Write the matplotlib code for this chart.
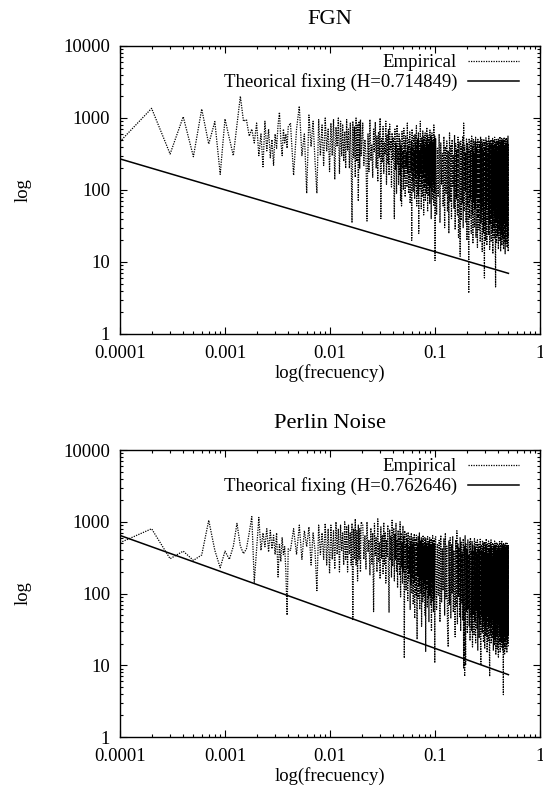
import numpy as np
import matplotlib
matplotlib.use('Agg')
import matplotlib.pyplot as plt
from matplotlib.ticker import LogLocator, FuncFormatter, NullFormatter

plt.rcParams['font.family'] = ['Liberation Serif', 'DejaVu Serif']
plt.rcParams['font.size'] = 13.5

# sample index k of the periodogram, frequency = k / 10000
k_a = np.arange(1, 41)
k_b = np.arange(42, 201, 3)
k_c = np.arange(205, 1001, 5)
k_d = np.arange(1015, 5001, 20)
freq = np.concatenate([k_a, k_b, k_c, k_d]) / 10000.0

# FGN periodogram
fgn_a = [470, 1360, 316, 1040, 290, 1330, 435, 890, 165, 970,
         520, 300, 800, 2000, 900, 950, 560, 700, 450, 850,
         300, 600, 210, 900, 350, 700, 280, 500, 220, 600,
         380, 800, 1200, 500, 300, 700, 450, 600, 380, 750]
fgn_b = [850, 160, 700, 1460, 300, 600, 90, 1100, 400, 900,
         250, 90, 950, 300, 800, 220, 1000, 350, 700, 180,
         850, 300, 950, 140, 750, 400, 1000, 170, 900, 300,
         800, 250, 650, 200, 950, 350, 700, 200, 850, 300,
         35, 900, 280, 750, 150, 1000, 250, 800, 70, 900,
         200, 950, 300]
fgn_c = [850, 220, 500, 300, 37, 600, 180, 950, 260, 420,
         150, 700, 330, 880, 200, 560, 130, 640, 280, 1000,
         40, 520, 240, 760, 170, 450, 310, 900, 120, 580,
         230, 690, 160, 820, 350, 480, 110, 620, 260, 540,
         140, 40, 700, 190, 450, 90, 800, 230, 380, 120,
         600, 160, 500, 70, 420, 60, 650, 200, 350, 100,
         720, 150, 460, 80, 560, 210, 330, 110, 850, 170,
         400, 90, 520, 140, 640, 65, 380, 180, 480, 20,
         700, 130, 420, 95, 560, 190, 340, 75, 600, 150,
         450, 110, 780, 60, 390, 160, 520, 85, 620, 25,
         480, 140, 350, 100, 900, 170, 430, 55, 540, 120,
         380, 80, 660, 150, 470, 45, 560, 110, 400, 190,
         620, 70, 350, 130, 500, 90, 740, 160, 420, 50,
         580, 120, 380, 85, 520, 140, 450, 65, 680, 110,
         400, 160, 550, 40, 470, 95, 620, 130, 360, 75,
         500, 150, 430, 60, 800, 120, 450, 90, 560, 10.5]
fgn_d = [520, 45, 380, 80, 600, 35, 450, 120, 320, 60,
         550, 30, 400, 90, 480, 50, 350, 25, 620, 70,
         420, 40, 500, 110, 300, 55, 580, 28, 440, 75,
         360, 45, 540, 22, 470, 85, 12, 490, 38, 400,
         65, 560, 30, 850, 50, 420, 95, 330, 35, 510,
         20, 450, 60, 380, 3.7, 520, 40, 350, 75, 480,
         25, 560, 45, 400, 18, 500, 70, 320, 30, 470,
         55, 540, 22, 390, 80, 460, 16, 520, 42, 350,
         28, 480, 65, 420, 19, 550, 35, 380, 50, 500,
         14, 440, 60, 360, 25, 510, 45, 6, 470, 32,
         400, 20, 530, 55, 350, 17, 490, 38, 420, 70,
         300, 24, 560, 48, 410, 15, 470, 33, 380, 60,
         500, 19, 440, 42, 330, 26, 520, 13, 400, 55,
         480, 30, 360, 21, 540, 45, 410, 16, 4.5, 450,
         35, 500, 18, 390, 58, 470, 23, 340, 40, 520,
         15, 430, 50, 480, 27, 370, 20, 550, 36, 410,
         14, 490, 44, 350, 24, 520, 17, 430, 52, 380,
         21, 500, 34, 450, 15, 400, 46, 540, 19, 360,
         38, 480, 13, 420, 28, 510, 42, 370, 18, 530,
         31, 440, 16, 490, 47, 400, 22, 560, 14, 450]

# Perlin noise periodogram
perlin_a = [512, 800, 306, 390, 290, 345, 1050, 400, 229, 390,
            300, 455, 950, 460, 360, 420, 700, 1180, 144, 420,
            1150, 400, 700, 450, 800, 380, 760, 420, 650, 350,
            700, 170, 500, 280, 600, 350, 450, 200, 50, 420]
perlin_b = [400, 800, 350, 900, 300, 750, 450, 850, 250, 700,
            400, 110, 900, 350, 700, 300, 950, 250, 800, 190,
            900, 300, 750, 220, 1000, 350, 800, 200, 900, 400,
            700, 250, 1000, 300, 850, 200, 900, 350, 700, 250,
            950, 42, 800, 300, 1100, 250, 750, 150, 900, 300,
            800, 200, 1000]
perlin_c = [900, 300, 650, 220, 1000, 380, 560, 180, 820, 260,
            700, 56, 950, 340, 600, 200, 1100, 280, 520, 160,
            850, 310, 640, 190, 980, 250, 720, 140, 560, 330,
            900, 210, 55, 780, 290, 620, 170, 1050, 240, 480,
            820, 150, 680, 300, 950, 200, 560, 120, 760, 260,
            600, 180, 1000, 90, 700, 230, 520, 140, 880, 200,
            640, 12.6, 750, 170, 480, 110, 680, 220, 560, 80,
            720, 150, 450, 190, 620, 60, 540, 130, 700, 100,
            480, 170, 600, 70, 520, 140, 680, 45, 440, 160,
            580, 95, 650, 120, 23, 500, 180, 620, 85, 460,
            130, 700, 60, 540, 150, 420, 100, 600, 35, 480,
            170, 560, 75, 650, 120, 440, 90, 520, 140, 600,
            50, 460, 15.6, 580, 110, 500, 160, 420, 65, 620,
            130, 480, 85, 550, 40, 440, 150, 600, 95, 500,
            120, 420, 70, 580, 30, 520, 140, 460, 80, 640,
            110, 500, 55, 440, 160, 560, 90, 480, 10.8, 600]
perlin_d = [620, 60, 480, 95, 550, 40, 650, 75, 420, 110,
            580, 50, 700, 85, 460, 35, 18, 540, 70, 600,
            45, 480, 100, 630, 55, 400, 80, 25, 560, 65,
            750, 38, 500, 90, 440, 48, 610, 30, 520, 72,
            380, 42, 580, 9, 460, 7, 640, 10, 490, 55,
            420, 28, 560, 60, 350, 35, 520, 22, 600, 48,
            400, 30, 540, 18, 470, 52, 380, 26, 580, 40,
            450, 20, 520, 58, 360, 32, 560, 16, 430, 45,
            500, 24, 410, 38, 570, 19, 10, 480, 50, 390,
            28, 550, 36, 440, 21, 510, 44, 370, 17, 530,
            33, 460, 26, 580, 40, 400, 15, 490, 48, 350,
            22, 540, 35, 430, 18, 7, 500, 42, 380, 27,
            560, 20, 450, 38, 340, 24, 510, 46, 420, 16,
            480, 30, 390, 19, 540, 36, 440, 23, 500, 14,
            370, 41, 520, 25, 430, 17, 490, 33, 350, 21,
            13, 470, 37, 410, 20, 530, 28, 380, 15, 460,
            34, 500, 22, 420, 18, 550, 39, 360, 24, 480,
            16, 440, 31, 3.9, 510, 19, 400, 27, 470, 14,
            430, 35, 490, 21, 370, 17, 520, 29, 410, 23,
            460, 15, 500, 32, 390, 20, 440, 26, 480, 18]

fgn = np.array(fgn_a + fgn_b + fgn_c + fgn_d, dtype=float)
perlin = np.array(perlin_a + perlin_b + perlin_c + perlin_d, dtype=float)

# theoretical fit lines, end points
fit_freq = [0.0001, 0.5]
fgn_fit = [270, 6.95]
perlin_fit = [646, 7.4]

fig = plt.figure(figsize=(5.43, 7.98), dpi=100)
ax1 = fig.add_axes([0.2210, 0.5815, 0.7735, 0.3609])
ax2 = fig.add_axes([0.2210, 0.0764, 0.7735, 0.3596])

fmt = FuncFormatter(lambda v, p: '%g' % v)

for ax, emp, fit, title, lab in [(ax1, fgn, fgn_fit, 'FGN', 'Theorical fixing (H=0.714849)'),
                                 (ax2, perlin, perlin_fit, 'Perlin Noise', 'Theorical fixing (H=0.762646)')]:
    ax.plot(freq, emp, color='black', lw=0.9, ls=(0, (1, 1)), label='Empirical')
    ax.plot(fit_freq, fit, color='black', lw=1.1, label=lab)
    ax.set_xscale('log')
    ax.set_yscale('log')
    ax.set_xlim(1e-4, 1)
    ax.set_ylim(1, 1e4)
    for axis in [ax.xaxis, ax.yaxis]:
        axis.set_major_locator(LogLocator(base=10, numticks=10))
        axis.set_minor_locator(LogLocator(base=10, subs=np.arange(2, 10), numticks=10))
        axis.set_major_formatter(fmt)
        axis.set_minor_formatter(NullFormatter())
    ax.tick_params(which='both', direction='in', top=True, right=True, width=0.8)
    ax.tick_params(which='major', length=5)
    ax.tick_params(which='minor', length=2.5)
    ax.tick_params(axis='x', pad=8)
    ax.tick_params(axis='y', pad=7)
    for s in ax.spines.values():
        s.set_linewidth(1.0)
    ax.set_title(title, pad=16)
    ax.set_xlabel('log(frecuency)')
    ax.set_ylabel('log')
    ax.xaxis.set_label_coords(0.5, -0.106)
    ax.yaxis.set_label_coords(-0.21, 0.5)
    ax.legend(loc='upper right', bbox_to_anchor=(0.95, 0.972), frameon=False,
              markerfirst=False, handlelength=2.7, handletextpad=0.6,
              borderpad=0, borderaxespad=0, labelspacing=0.12)

fig.savefig('out.png', dpi=100)
